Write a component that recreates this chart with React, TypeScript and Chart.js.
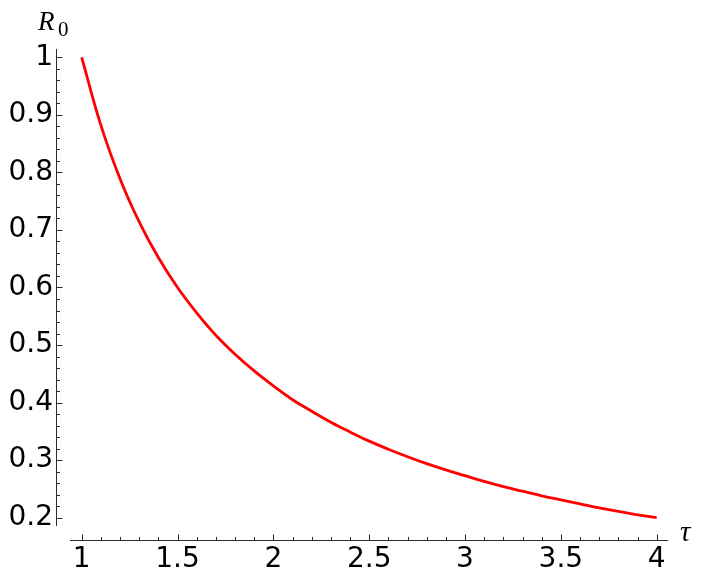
import React, { useEffect, useRef } from 'react';
import { Chart, registerables } from 'chart.js';

Chart.register(...registerables);

// Curve: R0 against tau
const tauValues = [
  1.0, 1.1, 1.2, 1.3, 1.4, 1.5, 1.6, 1.7, 1.8, 1.9,
  2.0, 2.1, 2.2, 2.3, 2.4, 2.5, 2.6, 2.7, 2.8, 2.9,
  3.0, 3.1, 3.2, 3.3, 3.4, 3.5, 3.6, 3.7, 3.8, 3.9, 4.0,
];
const r0Values = [
  1.0, 0.882, 0.789, 0.714, 0.652, 0.6, 0.556, 0.517, 0.484, 0.455,
  0.429, 0.405, 0.385, 0.366, 0.349, 0.333, 0.319, 0.306, 0.294, 0.283,
  0.273, 0.263, 0.254, 0.246, 0.238, 0.231, 0.224, 0.217, 0.211, 0.205, 0.2,
];

// Tick labels
const xMajorTicks = [1, 1.5, 2, 2.5, 3, 3.5, 4];
const xTickLabels = ['1', '1.5', '2', '2.5', '3', '3.5', '4'];
const yMajorTicks = [0.2, 0.3, 0.4, 0.5, 0.6, 0.7, 0.8, 0.9, 1];
const yTickLabels = ['0.2', '0.3', '0.4', '0.5', '0.6', '0.7', '0.8', '0.9', '1'];

// Axis ranges
const X_MIN = 0.866;
const X_MAX = 4.059;
const Y_MIN = 0.1595;
const Y_MAX = 1.0144;
const X_AXIS_START = 0.939;
const Y_AXIS_START = 0.1856;
const X_STEP = 0.1;
const Y_STEP = 0.02;

const AXIS_COLOR = '#2a2a2a';
const TICK_FONT = { family: 'DejaVu Sans', size: 28 };

function labelFor(value: number, majors: number[], labels: string[]): string {
  for (let i = 0; i < majors.length; i++) {
    if (Math.abs(value - majors[i]) < 1e-6) return labels[i];
  }
  return '';
}

function isMajor(value: number, majors: number[]): boolean {
  return majors.some((m) => Math.abs(value - m) < 1e-6);
}

const axesPlugin = {
  id: 'mathematicaAxes',
  afterDraw(chart: any) {
    const { ctx, chartArea } = chart;
    const xs = chart.scales.x;
    const ys = chart.scales.y;
    ctx.save();
    ctx.strokeStyle = AXIS_COLOR;
    ctx.lineWidth = 1;

    // y axis line
    const yAxisX = chartArea.left + 0.5;
    ctx.beginPath();
    ctx.moveTo(yAxisX, ys.getPixelForValue(Y_MAX));
    ctx.lineTo(yAxisX, ys.getPixelForValue(Y_AXIS_START));
    ctx.stroke();

    // x axis line
    const xAxisY = chartArea.bottom - 0.5;
    ctx.beginPath();
    ctx.moveTo(xs.getPixelForValue(X_AXIS_START), xAxisY);
    ctx.lineTo(xs.getPixelForValue(X_MAX), xAxisY);
    ctx.stroke();

    // y ticks (inward)
    ys.ticks.forEach((t: any) => {
      if (t.value < Y_AXIS_START || t.value > Y_MAX) return;
      const py = Math.round(ys.getPixelForValue(t.value)) + 0.5;
      const len = isMajor(t.value, yMajorTicks) ? 6 : 3.5;
      ctx.beginPath();
      ctx.moveTo(yAxisX, py);
      ctx.lineTo(yAxisX + len, py);
      ctx.stroke();
    });

    // x ticks (inward)
    xs.ticks.forEach((t: any) => {
      if (t.value < X_AXIS_START || t.value > X_MAX) return;
      const px = Math.round(xs.getPixelForValue(t.value)) + 0.5;
      const len = isMajor(t.value, xMajorTicks) ? 6 : 3.5;
      ctx.beginPath();
      ctx.moveTo(px, xAxisY);
      ctx.lineTo(px, xAxisY - len);
      ctx.stroke();
    });

    // axis labels
    ctx.fillStyle = '#000000';
    ctx.textBaseline = 'alphabetic';
    ctx.textAlign = 'left';
    ctx.font = 'italic 27px "Liberation Serif"';
    ctx.fillText('R', chartArea.left - 18, chartArea.top - 19);
    ctx.font = '21px "Liberation Serif"';
    ctx.fillText('0', chartArea.left + 2, chartArea.top - 13);
    ctx.font = 'italic 29px "Liberation Serif"';
    ctx.fillText('τ', chartArea.right + 12, chartArea.bottom);
    ctx.restore();
  },
};

export default function App() {
  const canvasRef = useRef<HTMLCanvasElement | null>(null);

  useEffect(() => {
    if (!canvasRef.current) return;
    const points = tauValues.map((t, i) => ({ x: t, y: r0Values[i] }));
    const chart = new Chart(canvasRef.current, {
      type: 'line',
      data: {
        datasets: [
          {
            data: points,
            borderColor: '#ff0000',
            borderWidth: 2.8,
            pointRadius: 0,
            tension: 0.4,
            fill: false,
          },
        ],
      },
      options: {
        animation: false,
        responsive: false,
        devicePixelRatio: 1,
        layout: { padding: { top: 49, right: 34, left: 0, bottom: 0 } },
        plugins: { legend: { display: false }, tooltip: { enabled: false } },
        scales: {
          x: {
            type: 'linear',
            min: X_MIN,
            max: X_MAX,
            grid: { display: false, drawTicks: false },
            border: { display: false },
            afterFit: (s: any) => {
              s.height = 42;
            },
            ticks: {
              stepSize: X_STEP,
              includeBounds: false,
              autoSkip: false,
              maxRotation: 0,
              minRotation: 0,
              padding: 2,
              color: '#000000',
              font: TICK_FONT,
              callback: (v: any) => labelFor(Number(v), xMajorTicks, xTickLabels),
            },
          },
          y: {
            type: 'linear',
            min: Y_MIN,
            max: Y_MAX,
            grid: { display: false, drawTicks: false },
            border: { display: false },
            afterFit: (s: any) => {
              s.width = 56;
            },
            ticks: {
              stepSize: Y_STEP,
              includeBounds: false,
              autoSkip: false,
              padding: 3,
              color: '#000000',
              font: TICK_FONT,
              callback: (v: any) => labelFor(Number(v), yMajorTicks, yTickLabels),
            },
          },
        },
      },
      plugins: [axesPlugin],
    });
    return () => chart.destroy();
  }, []);

  return (
    <div style={{ position: 'fixed', left: 0, top: 0, width: 702, height: 583, background: '#ffffff' }}>
      <canvas ref={canvasRef} width={702} height={583} style={{ display: 'block', width: 702, height: 583 }} />
    </div>
  );
}
